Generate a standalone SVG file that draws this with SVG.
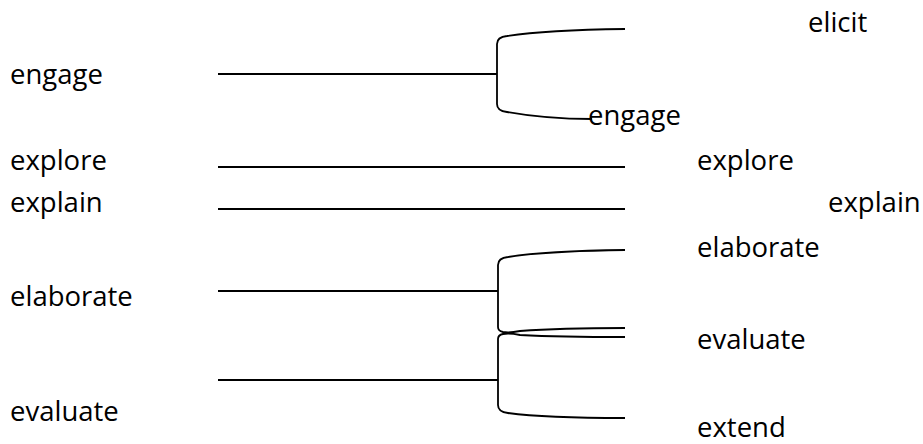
<svg xmlns="http://www.w3.org/2000/svg" width="923" height="444" viewBox="0 0 923 444">
<style>
text{font-family:"Open Sans","Liberation Sans",sans-serif;font-size:27.5px;fill:#000}
.c{fill:none;stroke:#000;stroke-width:1.8}
</style>
<rect width="923" height="444" fill="#fff"/>
<g id="left-engage"><text x="10" y="84">engage</text></g>
<g id="left-explore"><text x="10" y="170">explore</text></g>
<g id="left-explain"><text x="10" y="212">explain</text></g>
<g id="left-elaborate"><text x="10" y="306">elaborate</text></g>
<g id="left-evaluate"><text x="10" y="421">evaluate</text></g>
<g id="right-elicit"><text x="808" y="32">elicit</text></g>
<g id="right-engage"><text x="588" y="125">engage</text></g>
<g id="right-explore"><text x="697" y="170">explore</text></g>
<g id="right-explain"><text x="828" y="212">explain</text></g>
<g id="right-elaborate"><text x="697" y="257">elaborate</text></g>
<g id="right-evaluate"><text x="697" y="349">evaluate</text></g>
<g id="right-extend"><text x="697" y="437">extend</text></g>
<g id="connectors">
<path class="c" d="M218,74 H497"/>
<path class="c" d="M497,104 V44 Q497,37 507,36 Q545,30 625,29"/>
<path class="c" d="M497,104 Q497,111 507,112 Q545,119 592,119"/>
<path class="c" d="M218,167 H625"/>
<path class="c" d="M218,209 H625"/>
<path class="c" d="M218,291 H498"/>
<path class="c" d="M498,265 Q498,258 508,257 Q545,251 625,250"/>
<path class="c" d="M498,265 V327 Q498,331 503,332 Q510,333 520,331 Q560,328 625,328"/>
<path class="c" d="M218,380 H498"/>
<path class="c" d="M498,405 V339 Q498,335 503,334 Q510,333 520,335 Q560,337 625,337"/>
<path class="c" d="M498,405 Q498,412 508,413 Q545,418 625,418"/>
</g>
</svg>
